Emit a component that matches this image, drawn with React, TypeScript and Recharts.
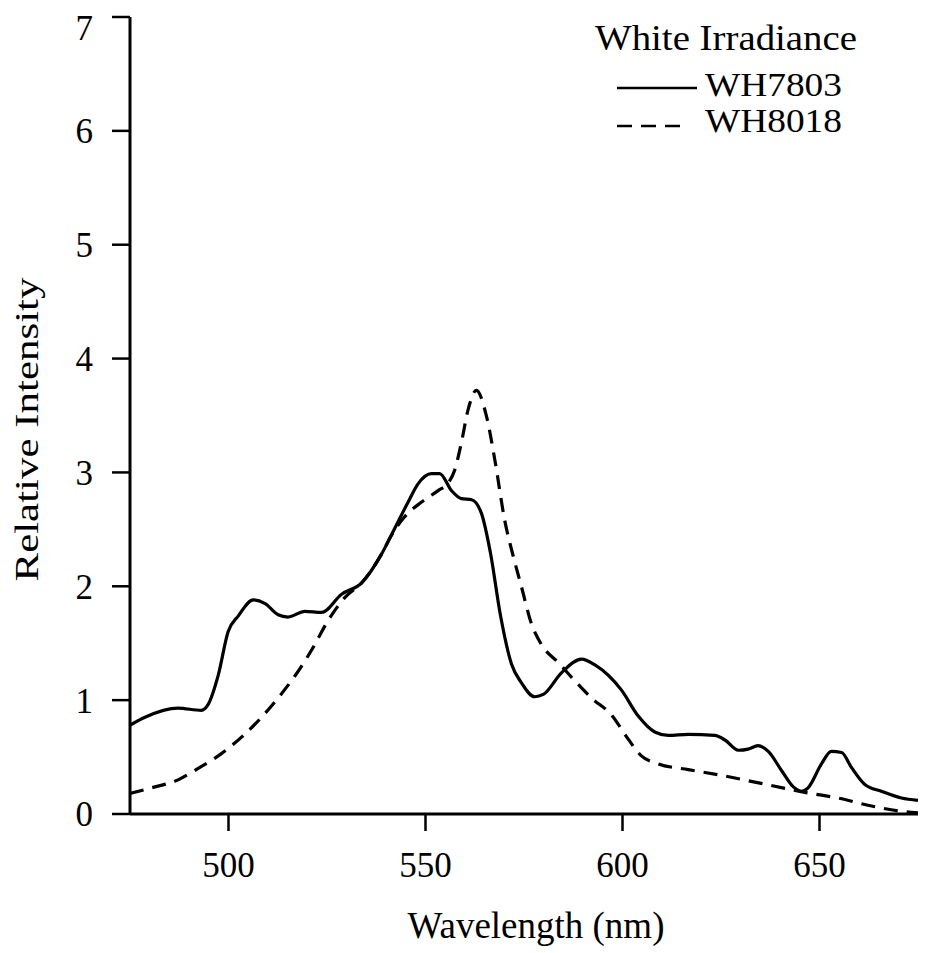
import React from 'react';
import { LineChart, Line, XAxis, YAxis, Label } from 'recharts';

const FONT = "'Liberation Serif', 'Times New Roman', Times, serif";

const xTicks = [500, 550, 600, 650];
const yTicks = [0, 1, 2, 3, 4, 5, 6, 7];
const legendTitle = 'White Irradiance';
const seriesNames = ['WH7803', 'WH8018'];
const xTitle = 'Wavelength (nm)';
const yTitle = 'Relative Intensity';

const wh7803Wavelength = [475, 478.8, 487.2, 493.1, 494.8, 497.4, 499.9, 502.5, 506.3, 509.2, 512.6, 515.1, 519.4, 523.6, 528.7, 533.8, 538.8, 542.2, 545.6, 548.1, 551.5, 553.6, 556.6, 559.1, 561.7, 564.2, 566.5, 569, 571.8, 574.4, 577.7, 579.9, 584.5, 589.6, 593, 599.7, 604, 608.2, 611.6, 616.7, 623.4, 626, 629.4, 631.9, 634.4, 637, 640.4, 643.3, 645.4, 647.1, 650.5, 653, 655.6, 658.1, 661.5, 665.7, 670.8, 675];
const wh7803Intensity = [0.78, 0.85, 0.93, 0.91, 0.96, 1.22, 1.6, 1.74, 1.88, 1.85, 1.75, 1.73, 1.78, 1.77, 1.93, 2.03, 2.28, 2.51, 2.74, 2.9, 2.99, 2.99, 2.84, 2.77, 2.76, 2.64, 2.29, 1.75, 1.32, 1.15, 1.03, 1.05, 1.24, 1.36, 1.31, 1.09, 0.86, 0.72, 0.69, 0.7, 0.69, 0.65, 0.56, 0.57, 0.6, 0.55, 0.38, 0.24, 0.2, 0.23, 0.44, 0.55, 0.54, 0.41, 0.26, 0.2, 0.14, 0.12];

const wh8018Wavelength = [475, 480.5, 487.2, 492.3, 498.2, 504.1, 508.4, 512.6, 516.8, 521.1, 525.3, 529.5, 533.8, 538.8, 541.4, 544.7, 549, 553.2, 555.8, 557.4, 559.1, 560.8, 562.9, 565.5, 567.6, 570.1, 572.3, 574.4, 576.9, 579.4, 583.7, 587.9, 592.1, 597.2, 601.4, 604.8, 609.1, 616.7, 625.1, 633.6, 642, 646.3, 654.7, 663.2, 671.6, 675];
const wh8018Intensity = [0.18, 0.23, 0.3, 0.4, 0.53, 0.7, 0.85, 1.02, 1.21, 1.44, 1.7, 1.9, 2.03, 2.28, 2.45, 2.61, 2.74, 2.84, 2.91, 3.02, 3.26, 3.55, 3.72, 3.49, 3.11, 2.58, 2.26, 1.99, 1.67, 1.49, 1.33, 1.17, 1.02, 0.87, 0.66, 0.51, 0.44, 0.39, 0.34, 0.28, 0.22, 0.19, 0.14, 0.07, 0.02, 0.01];

const wh7803Data = wh7803Wavelength.map((w, i) => ({ wavelength: w, intensity: wh7803Intensity[i] }));
const wh8018Data = wh8018Wavelength.map((w, i) => ({ wavelength: w, intensity: wh8018Intensity[i] }));

const axisStroke = { stroke: '#000', strokeWidth: 3 };
const tickStroke = { stroke: '#000', strokeWidth: 2.5 };
const tickFont = { fill: '#000', fontSize: 35, fontFamily: FONT };

const XTitle = (props: any) => {
  const vb = props.viewBox || { x: 122, y: 806, width: 788, height: 139 };
  return (
    <text x={vb.x + vb.width / 2 + 12} y={vb.y + vb.height - 15} textAnchor="middle" fontFamily={FONT} fontSize={37} fill="#000">
      {xTitle}
    </text>
  );
};

const YTitle = (props: any) => {
  const vb = props.viewBox || { x: 0, y: 9, width: 122, height: 797 };
  const x = vb.x + 30;
  const y = vb.y + vb.height / 2 + 14;
  return (
    <text x={x} y={y} transform={`rotate(-90, ${x}, ${y})`} textAnchor="middle" fontFamily={FONT} fontSize={33} fill="#000" textLength={304} lengthAdjust="spacingAndGlyphs">
      {yTitle}
    </text>
  );
};

export default function App() {
  return (
    <div style={{ position: 'relative', width: 920, height: 945, background: '#fff' }}>
      <LineChart width={920} height={945} margin={{ top: 9, right: 10, bottom: 0, left: 0 }}>
        <XAxis
          xAxisId="b"
          type="number"
          dataKey="wavelength"
          domain={[475, 675]}
          ticks={xTicks}
          allowDataOverflow
          height={139}
          tickSize={17}
          tickMargin={21}
          axisLine={axisStroke}
          tickLine={tickStroke}
          tick={tickFont}
        >
          <Label content={XTitle} />
        </XAxis>
        <XAxis
          xAxisId="t"
          orientation="top"
          type="number"
          dataKey="wavelength"
          domain={[475, 675]}
          allowDataOverflow
          height={0}
          tick={false}
          tickLine={false}
          axisLine={axisStroke}
        />
        <YAxis
          yAxisId="l"
          type="number"
          domain={[0, 7]}
          ticks={yTicks}
          allowDataOverflow
          width={122}
          tickSize={18}
          tickMargin={19}
          axisLine={axisStroke}
          tickLine={tickStroke}
          tick={tickFont}
        >
          <Label content={YTitle} />
        </YAxis>
        <YAxis
          yAxisId="r"
          orientation="right"
          type="number"
          domain={[0, 7]}
          allowDataOverflow
          width={0}
          tick={false}
          tickLine={false}
          axisLine={axisStroke}
        />
        <Line
          xAxisId="b"
          yAxisId="l"
          data={wh7803Data}
          dataKey="intensity"
          name={seriesNames[0]}
          type="monotone"
          stroke="#000"
          strokeWidth={3.2}
          dot={false}
          activeDot={false}
          isAnimationActive={false}
        />
        <Line
          xAxisId="b"
          yAxisId="l"
          data={wh8018Data}
          dataKey="intensity"
          name={seriesNames[1]}
          type="monotone"
          stroke="#000"
          strokeWidth={3.2}
          strokeDasharray="14 9"
          dot={false}
          activeDot={false}
          isAnimationActive={false}
        />
      </LineChart>
      <svg width={920} height={945} style={{ position: 'absolute', left: 0, top: 0, pointerEvents: 'none' }}>
        <text x={587} y={42} fontFamily={FONT} fontSize={35} fill="#000" textLength={262} lengthAdjust="spacingAndGlyphs">{legendTitle}</text>
        <line x1={609} y1={80} x2={689} y2={80} stroke="#000" strokeWidth={2.5} />
        <text x={697} y={88} fontFamily={FONT} fontSize={33} fill="#000" textLength={137} lengthAdjust="spacingAndGlyphs">{seriesNames[0]}</text>
        <line x1={609} y1={118} x2={672} y2={118} stroke="#000" strokeWidth={2.5} strokeDasharray="15 9" />
        <text x={697} y={124} fontFamily={FONT} fontSize={33} fill="#000" textLength={137} lengthAdjust="spacingAndGlyphs">{seriesNames[1]}</text>
      </svg>
    </div>
  );
}
